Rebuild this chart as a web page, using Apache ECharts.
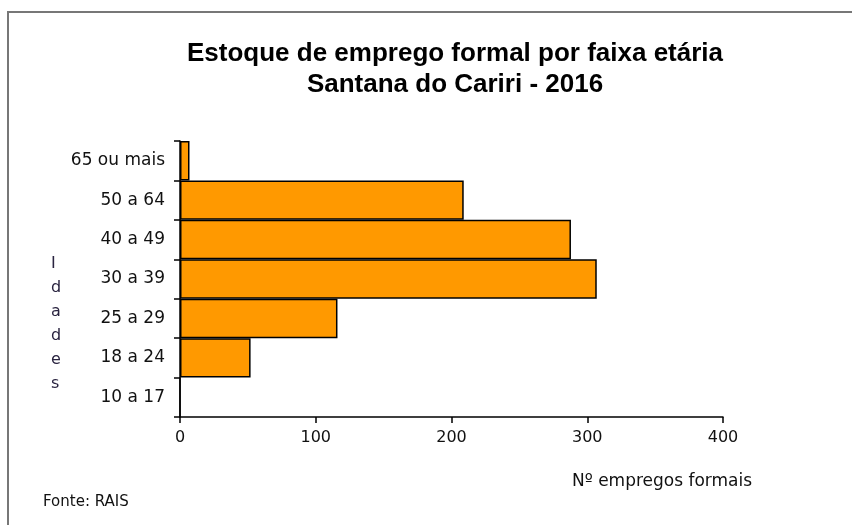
<!DOCTYPE html>
<html lang="pt-BR">
<head>
    <meta charset="UTF-8">
    <title>Estoque de emprego formal por faixa etária</title>
    <script src="https://cdn.jsdelivr.net/npm/echarts@6/dist/echarts.min.js"></script>
    <style>
        html, body { margin: 0; padding: 0; background: #fff; }
        #chart { width: 852px; height: 525px; }
    </style>
</head>
<body>
    <div id="chart"></div>
    <script>
        // dados (de baixo para cima)
        const faixas = ['10 a 17', '18 a 24', '25 a 29', '30 a 39', '40 a 49', '50 a 64', '65 ou mais'];
        const empregos = [0, 52, 116, 307, 288, 209, 7];
        const xTicks = [0, 100, 200, 300, 400];

        const titleFont = '"Liberation Sans", Arial, sans-serif';
        const sans = '"DejaVu Sans", Verdana, sans-serif';

        const chart = echarts.init(document.getElementById('chart'));
        chart.setOption({
            animation: false,
            backgroundColor: '#fff',
            title: {
                text: 'Estoque de emprego formal por faixa etária\nSantana do Cariri - 2016',
                left: 450,
                top: 33,
                textAlign: 'center',
                textStyle: {
                    fontFamily: titleFont,
                    fontWeight: 'bold',
                    fontSize: 26,
                    lineHeight: 31,
                    color: '#000'
                }
            },
            grid: { left: 180, right: 129, top: 141, bottom: 108 },
            xAxis: {
                type: 'value',
                min: xTicks[0],
                max: xTicks[xTicks.length - 1],
                interval: 100,
                splitLine: { show: false },
                axisLine: { show: true, lineStyle: { color: '#000', width: 1.5 } },
                axisTick: { show: true, length: 6, lineStyle: { color: '#000', width: 1.5 } },
                axisLabel: { color: '#111', fontFamily: sans, fontSize: 16, margin: 13 }
            },
            yAxis: {
                type: 'category',
                data: faixas,
                axisLine: { show: true, lineStyle: { color: '#000', width: 1.5 } },
                axisTick: { show: true, length: 6, lineStyle: { color: '#000', width: 1.5 } },
                axisLabel: { color: '#111', fontFamily: sans, fontSize: 17, margin: 15 }
            },
            series: [{
                type: 'bar',
                data: empregos,
                barCategoryGap: '0%',
                itemStyle: { color: '#FF9900', borderColor: '#000', borderWidth: 1.5 }
            }],
            graphic: [
                {
                    type: 'polyline',
                    shape: { points: [[8, 525], [8, 12], [852, 12]] },
                    style: { stroke: '#777', lineWidth: 2, fill: null }
                },
                {
                    type: 'text',
                    left: 51,
                    top: 252,
                    style: {
                        text: 'I\nd\na\nd\ne\ns',
                        fontFamily: sans,
                        fontSize: 16,
                        lineHeight: 24,
                        fill: '#2a2440',
                        align: 'center'
                    }
                },
                {
                    type: 'text',
                    left: 572,
                    top: 473,
                    style: { text: 'Nº empregos formais', fontFamily: sans, fontSize: 17, fill: '#111' }
                },
                {
                    type: 'text',
                    left: 43,
                    top: 495,
                    style: { text: 'Fonte: RAIS', fontFamily: sans, fontSize: 15, fill: '#111' }
                }
            ]
        });
    </script>
</body>
</html>
